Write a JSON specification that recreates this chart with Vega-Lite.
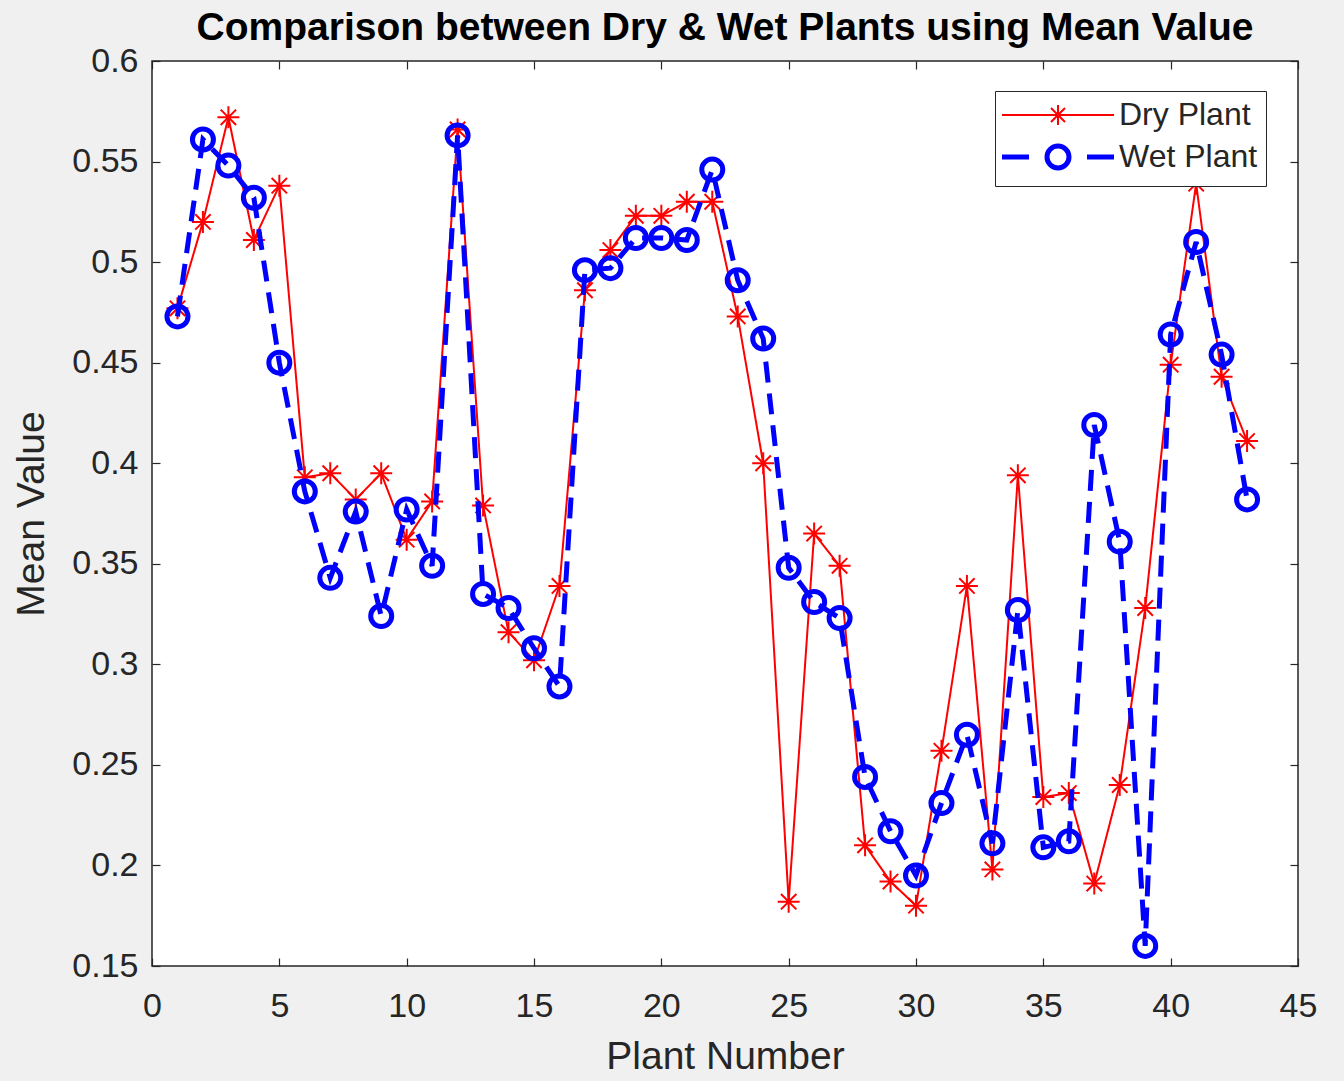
{
  "$schema": "https://vega.github.io/schema/vega-lite/v6.json",
  "width": 1146,
  "height": 905,
  "autosize": {"type": "none"},
  "padding": {"left": 152, "top": 61, "right": 46, "bottom": 115},
  "background": "#f0f0f0",
  "title": {"text": "Comparison between Dry & Wet Plants using Mean Value", "font": "Liberation Sans", "fontSize": 39, "fontWeight": "bold", "color": "#000000", "anchor": "middle", "offset": -4},
  "config": {
    "view": {"fill": "white", "stroke": "#262626", "strokeWidth": 1.5},
    "axis": {"labelFont": "Liberation Sans", "labelFontSize": 34, "labelColor": "#262626", "labelFlush": false, "titleFont": "Liberation Sans", "titleFontSize": 39, "titleFontWeight": "normal", "titleColor": "#262626", "tickColor": "#262626", "tickSize": -8, "tickWidth": 1.2, "domain": false, "grid": false}
  },
  "resolve": {"axis": {"x": "independent", "y": "independent"}},
  "data": {"values": [
    {"plant": 1, "type": "Dry Plant", "value": 0.477}, {"plant": 2, "type": "Dry Plant", "value": 0.520}, {"plant": 3, "type": "Dry Plant", "value": 0.572}, {"plant": 4, "type": "Dry Plant", "value": 0.511}, {"plant": 5, "type": "Dry Plant", "value": 0.538},
    {"plant": 6, "type": "Dry Plant", "value": 0.393}, {"plant": 7, "type": "Dry Plant", "value": 0.395}, {"plant": 8, "type": "Dry Plant", "value": 0.382}, {"plant": 9, "type": "Dry Plant", "value": 0.395}, {"plant": 10, "type": "Dry Plant", "value": 0.362},
    {"plant": 11, "type": "Dry Plant", "value": 0.381}, {"plant": 12, "type": "Dry Plant", "value": 0.566}, {"plant": 13, "type": "Dry Plant", "value": 0.379}, {"plant": 14, "type": "Dry Plant", "value": 0.316}, {"plant": 15, "type": "Dry Plant", "value": 0.302},
    {"plant": 16, "type": "Dry Plant", "value": 0.339}, {"plant": 17, "type": "Dry Plant", "value": 0.486}, {"plant": 18, "type": "Dry Plant", "value": 0.506}, {"plant": 19, "type": "Dry Plant", "value": 0.523}, {"plant": 20, "type": "Dry Plant", "value": 0.523},
    {"plant": 21, "type": "Dry Plant", "value": 0.530}, {"plant": 22, "type": "Dry Plant", "value": 0.530}, {"plant": 23, "type": "Dry Plant", "value": 0.473}, {"plant": 24, "type": "Dry Plant", "value": 0.400}, {"plant": 25, "type": "Dry Plant", "value": 0.182},
    {"plant": 26, "type": "Dry Plant", "value": 0.365}, {"plant": 27, "type": "Dry Plant", "value": 0.349}, {"plant": 28, "type": "Dry Plant", "value": 0.210}, {"plant": 29, "type": "Dry Plant", "value": 0.192}, {"plant": 30, "type": "Dry Plant", "value": 0.180},
    {"plant": 31, "type": "Dry Plant", "value": 0.257}, {"plant": 32, "type": "Dry Plant", "value": 0.339}, {"plant": 33, "type": "Dry Plant", "value": 0.198}, {"plant": 34, "type": "Dry Plant", "value": 0.394}, {"plant": 35, "type": "Dry Plant", "value": 0.234},
    {"plant": 36, "type": "Dry Plant", "value": 0.236}, {"plant": 37, "type": "Dry Plant", "value": 0.191}, {"plant": 38, "type": "Dry Plant", "value": 0.240}, {"plant": 39, "type": "Dry Plant", "value": 0.328}, {"plant": 40, "type": "Dry Plant", "value": 0.449},
    {"plant": 41, "type": "Dry Plant", "value": 0.539}, {"plant": 42, "type": "Dry Plant", "value": 0.443}, {"plant": 43, "type": "Dry Plant", "value": 0.411},
    {"plant": 1, "type": "Wet Plant", "value": 0.473}, {"plant": 2, "type": "Wet Plant", "value": 0.561}, {"plant": 3, "type": "Wet Plant", "value": 0.548}, {"plant": 4, "type": "Wet Plant", "value": 0.532}, {"plant": 5, "type": "Wet Plant", "value": 0.450},
    {"plant": 6, "type": "Wet Plant", "value": 0.386}, {"plant": 7, "type": "Wet Plant", "value": 0.343}, {"plant": 8, "type": "Wet Plant", "value": 0.376}, {"plant": 9, "type": "Wet Plant", "value": 0.324}, {"plant": 10, "type": "Wet Plant", "value": 0.377},
    {"plant": 11, "type": "Wet Plant", "value": 0.349}, {"plant": 12, "type": "Wet Plant", "value": 0.563}, {"plant": 13, "type": "Wet Plant", "value": 0.335}, {"plant": 14, "type": "Wet Plant", "value": 0.328}, {"plant": 15, "type": "Wet Plant", "value": 0.308},
    {"plant": 16, "type": "Wet Plant", "value": 0.289}, {"plant": 17, "type": "Wet Plant", "value": 0.496}, {"plant": 18, "type": "Wet Plant", "value": 0.497}, {"plant": 19, "type": "Wet Plant", "value": 0.512}, {"plant": 20, "type": "Wet Plant", "value": 0.512},
    {"plant": 21, "type": "Wet Plant", "value": 0.511}, {"plant": 22, "type": "Wet Plant", "value": 0.546}, {"plant": 23, "type": "Wet Plant", "value": 0.491}, {"plant": 24, "type": "Wet Plant", "value": 0.462}, {"plant": 25, "type": "Wet Plant", "value": 0.348},
    {"plant": 26, "type": "Wet Plant", "value": 0.331}, {"plant": 27, "type": "Wet Plant", "value": 0.323}, {"plant": 28, "type": "Wet Plant", "value": 0.244}, {"plant": 29, "type": "Wet Plant", "value": 0.217}, {"plant": 30, "type": "Wet Plant", "value": 0.195},
    {"plant": 31, "type": "Wet Plant", "value": 0.231}, {"plant": 32, "type": "Wet Plant", "value": 0.265}, {"plant": 33, "type": "Wet Plant", "value": 0.211}, {"plant": 34, "type": "Wet Plant", "value": 0.327}, {"plant": 35, "type": "Wet Plant", "value": 0.209},
    {"plant": 36, "type": "Wet Plant", "value": 0.212}, {"plant": 37, "type": "Wet Plant", "value": 0.419}, {"plant": 38, "type": "Wet Plant", "value": 0.361}, {"plant": 39, "type": "Wet Plant", "value": 0.160}, {"plant": 40, "type": "Wet Plant", "value": 0.464},
    {"plant": 41, "type": "Wet Plant", "value": 0.510}, {"plant": 42, "type": "Wet Plant", "value": 0.454}, {"plant": 43, "type": "Wet Plant", "value": 0.382}
  ]},
  "layer": [
    {
      "transform": [{"filter": "datum.type === 'Dry Plant'"}],
      "mark": {"type": "line", "strokeWidth": 2},
      "encoding": {
        "x": {"field": "plant", "type": "quantitative", "scale": {"domain": [0, 45], "nice": false}, "axis": {"orient": "bottom", "values": [0, 5, 10, 15, 20, 25, 30, 35, 40, 45], "title": "Plant Number", "labelPadding": 31, "titlePadding": 14}},
        "y": {"field": "value", "type": "quantitative", "scale": {"domain": [0.15, 0.6], "nice": false, "zero": false}, "axis": {"orient": "left", "values": [0.15, 0.2, 0.25, 0.3, 0.35, 0.4, 0.45, 0.5, 0.55, 0.6], "format": ".2~f", "title": "Mean Value", "labelPadding": 22, "titlePadding": 20}},
        "color": {"field": "type", "type": "nominal", "scale": {"domain": ["Dry Plant", "Wet Plant"], "range": ["#ff0000", "#0000ff"]},
          "legend": {"title": null, "orient": "none", "legendX": 843, "legendY": 30, "padding": 8, "fillColor": "white", "strokeColor": "#262626", "symbolSize": 400, "labelOffset": 84, "labelFont": "Liberation Sans", "labelFontSize": 32, "labelColor": "#262626", "rowPadding": 5,
            "encode": {"symbols": {"update": {
              "shape": {"signal": "datum.value === 'Dry Plant' ? 'M-1.7,0H9.5M2.9,0H4.9M3.9,-1V1M3.2,-0.7L4.6,0.7M3.2,0.7L4.6,-0.7' : 'M-1.7,0H1M6.8,0H9.5M5,0A1.1,1.1,0,1,1,2.8,0A1.1,1.1,0,1,1,5,0Z'"},
              "strokeWidth": {"signal": "datum.value === 'Dry Plant' ? 2 : 5"},
              "fill": {"value": "transparent"},
              "strokeDash": {"value": []}
            }}}}}
      }
    },
    {
      "transform": [{"filter": "datum.type === 'Dry Plant'"}],
      "mark": {"type": "point", "shape": "M-1,0H1M0,-1V1M-0.7,-0.7L0.7,0.7M-0.7,0.7L0.7,-0.7", "size": 484, "filled": false, "stroke": "#ff0000", "strokeWidth": 2, "opacity": 1},
      "encoding": {
        "x": {"field": "plant", "type": "quantitative", "axis": null},
        "y": {"field": "value", "type": "quantitative", "axis": null}
      }
    },
    {
      "transform": [{"filter": "datum.type === 'Wet Plant'"}],
      "mark": {"type": "line", "strokeWidth": 5, "stroke": "#0000ff", "strokeDash": [21, 11]},
      "encoding": {
        "x": {"field": "plant", "type": "quantitative", "axis": null},
        "y": {"field": "value", "type": "quantitative", "axis": null}
      }
    },
    {
      "transform": [{"filter": "datum.type === 'Wet Plant'"}],
      "mark": {"type": "point", "shape": "circle", "size": 441, "filled": false, "stroke": "#0000ff", "strokeWidth": 5, "opacity": 1},
      "encoding": {
        "x": {"field": "plant", "type": "quantitative", "axis": {"orient": "top", "labels": false, "title": null, "values": [0, 5, 10, 15, 20, 25, 30, 35, 40, 45]}},
        "y": {"field": "value", "type": "quantitative", "axis": {"orient": "right", "labels": false, "title": null, "values": [0.15, 0.2, 0.25, 0.3, 0.35, 0.4, 0.45, 0.5, 0.55, 0.6]}}
      }
    }
  ]
}
